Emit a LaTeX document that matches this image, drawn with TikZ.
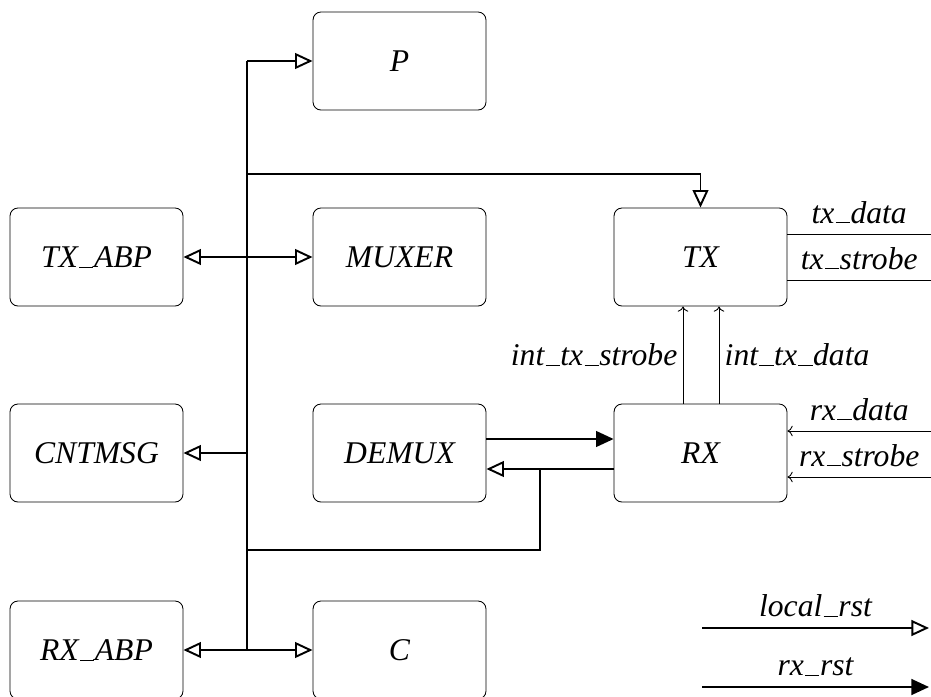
\documentclass[tikz,border=0pt]{standalone}
\usepackage{fontspec}
\setmainfont{Liberation Serif}
\usetikzlibrary{arrows.meta}

% underscore sitting on the baseline
\newcommand{\us}{\leavevmode\kern.04em\vbox{\hrule width .45em height .5pt}\kern.02em}

\tikzset{
  blk/.style = {draw, rounded corners=4.5pt, line width=0.5pt,
                minimum width=3.46cm, minimum height=1.96cm,
                font=\itshape\fontsize{18}{21}\selectfont},
  lbl/.style = {font=\itshape\fontsize{18}{21}\selectfont, inner sep=3pt},
  toplbl/.style = {lbl, above, text depth=3pt},
  bus/.style = {line width=1.1pt},
  open/.style = {-{Triangle[open, length=10pt, width=9pt, line width=1.1pt]}},
  full/.style = {-{Triangle[length=10pt, width=9pt]}},
  sig/.style = {line width=0.5pt, -{To[length=3pt, width=6pt]}},
  wire/.style = {line width=0.5pt}
}

\begin{document}
\begin{tikzpicture}[x=0.02cm, y=-0.02cm]
  \useasboundingbox (0,0) rectangle (931,697);

  % blocks
  \node[blk] (P)      at (399.5, 61)  {P};
  \node[blk] (TXABP)  at (96.5, 257)  {TX\us ABP};
  \node[blk] (MUXER)  at (399.5, 257) {MUXER};
  \node[blk] (TX)     at (700.5, 257) {TX};
  \node[blk] (CNTMSG) at (96.5, 453)  {CNTMSG};
  \node[blk] (DEMUX)  at (399.5, 453) {DEMUX};
  \node[blk] (RX)     at (700.5, 453) {RX};
  \node[blk] (RXABP)  at (96.5, 650)  {RX\us ABP};
  \node[blk] (C)      at (399.5, 650) {C};

  % bus points
  \coordinate (bt)  at (247, 61);
  \coordinate (btx) at (247, 174);
  \coordinate (b2)  at (247, 257);
  \coordinate (b3)  at (247, 453);
  \coordinate (bj)  at (247, 550);
  \coordinate (bb)  at (247, 650);
  \coordinate (rj)  at (540, 469);
  \coordinate (dr)  at (540, 439);

  % local reset bus
  \draw[bus] (bt) -- (bb);
  \draw[bus, open] (bt) -- (P.west);
  \draw[bus, open] (btx) -| (TX.north);
  \draw[bus, open] (b2) -- (TXABP.east);
  \draw[bus, open] (b2) -- (MUXER.west);
  \draw[bus, open] (b3) -- (CNTMSG.east);
  \draw[bus, open] (bb) -- (RXABP.east);
  \draw[bus, open] (bb) -- (C.west);
  \draw[bus, open] (RX.west |- rj) -- (DEMUX.east |- rj);
  \draw[bus] (rj) |- (bj);

  % rx reset
  \draw[bus, full] (DEMUX.east |- dr) -- (RX.west |- dr);

  % internal signals
  \coordinate (is) at (683, 0);
  \coordinate (id) at (719, 0);
  \draw[sig] (RX.north -| is) -- (TX.south -| is)
    node[midway, lbl, left] {int\us tx\us strobe};
  \draw[sig] (RX.north -| id) -- (TX.south -| id)
    node[midway, lbl, right] {int\us tx\us data};

  % external signals
  \coordinate (txd) at (931, 234);
  \coordinate (txs) at (931, 280);
  \coordinate (rxd) at (931, 431);
  \coordinate (rxs) at (931, 477);
  \draw[wire] (TX.east |- txd) -- (txd) node[midway, toplbl] {tx\us data};
  \draw[wire] (TX.east |- txs) -- (txs) node[midway, toplbl] {tx\us strobe};
  \draw[sig] (rxd) -- (RX.east |- rxd) node[midway, toplbl] {rx\us data};
  \draw[sig] (rxs) -- (RX.east |- rxs) node[midway, toplbl] {rx\us strobe};

  % legend
  \coordinate (la) at (702, 628);
  \coordinate (lb) at (929, 628);
  \coordinate (ra) at (702, 687);
  \coordinate (rb) at (929, 687);
  \draw[bus, open] (la) -- (lb) node[midway, toplbl] {local\us rst};
  \draw[bus, full] (ra) -- (rb) node[midway, toplbl] {rx\us rst};
\end{tikzpicture}
\end{document}
